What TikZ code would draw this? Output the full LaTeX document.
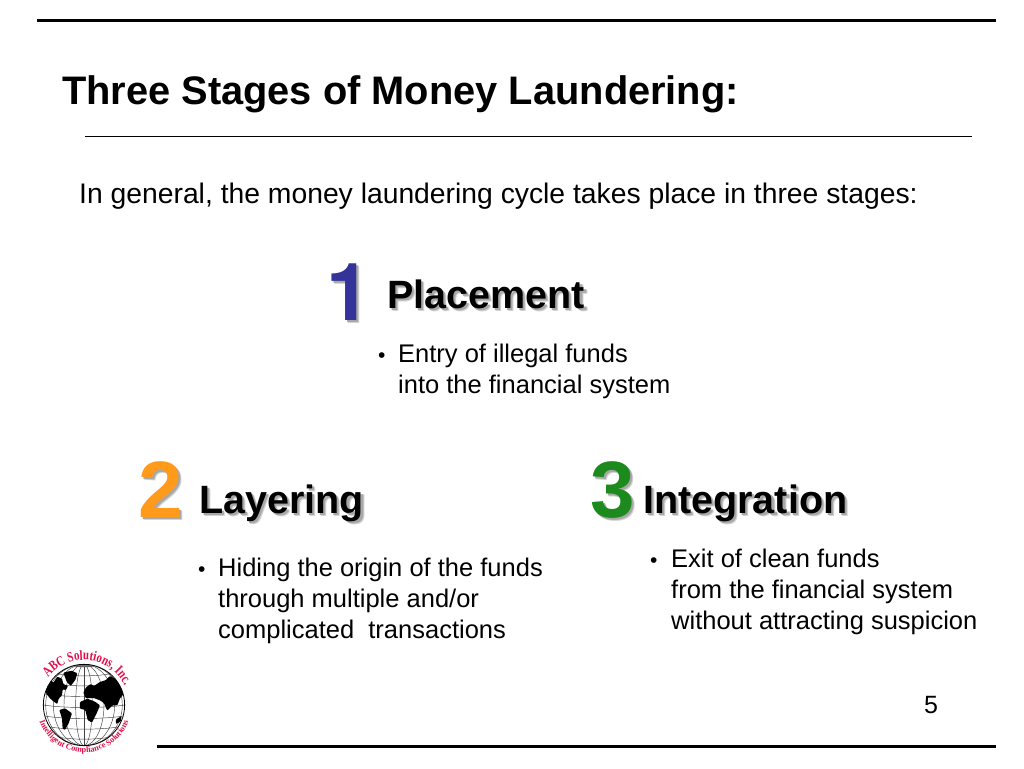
\documentclass[tikz,border=0pt]{standalone}
\usepackage{fontspec}
\setmainfont{Liberation Sans}
\newfontfamily\logofont[FakeStretch=0.78]{Liberation Serif}
\newfontfamily\logosmall{Liberation Serif}
\newfontfamily\numfont{TeX Gyre Heros}
\usetikzlibrary{decorations.text}
\definecolor{numblue}{HTML}{333399}
\definecolor{numorange}{HTML}{FF9A1A}
\definecolor{numgreen}{HTML}{1C8A1C}
\definecolor{shadowgray}{HTML}{A8A8A8}
\definecolor{shadowlight}{HTML}{D4D4D4}
\definecolor{logored}{HTML}{E0104A}
\newcommand{\shadowed}[2]{\leavevmode
  \rlap{\kern3.4pt\raisebox{-3.4pt}{\color{shadowlight}#2}}%
  \rlap{\kern2.4pt\raisebox{-2.4pt}{\color{shadowgray}#2}}%
  {\color{#1}#2}}
\tikzset{
  rule/.style={line width=3pt,black},
  thinrule/.style={line width=1pt,black},
  titletext/.style={anchor=base west,inner sep=0pt,font=\bfseries\fontsize{39.8}{44}\selectfont},
  plaintext/.style={anchor=base west,inner sep=0pt,font=\fontsize{28.3}{31}\selectfont},
  bodytext/.style={anchor=north west,inner sep=0pt,align=left,font=\fontsize{25.5}{31}\selectfont},
  bulletmark/.style={anchor=base west,inner sep=0pt,font=\fontsize{21}{31}\selectfont},
  headtext/.style={anchor=base west,inner sep=0pt,font=\bfseries\fontsize{39.5}{44}\selectfont},
  bignum/.style={anchor=base west,inner sep=0pt,font=\bfseries\fontsize{80}{90}\selectfont},
  land/.style={fill=black,draw=none,rounded corners=.8pt},
  gridline/.style={line width=.45pt,black!75}
}
\begin{document}
\begin{tikzpicture}[x=1pt,y=-1pt]
\useasboundingbox (0,0) rectangle (1024,768);
\fill[white] (0,0) rectangle (1024,768);
\coordinate (topl) at (37,21); \coordinate (topr) at (996,21);
\coordinate (midl) at (85,136); \coordinate (midr) at (972,136);
\coordinate (botl) at (157,746); \coordinate (botr) at (996,746);
\draw[rule] (topl) -- (topr);
\draw[thinrule] (midl) -- (midr);
\draw[rule] (botl) -- (botr);
\node[titletext] (title) at (62,104) {Three Stages of Money Laundering:};
\node[plaintext] (intro) at (79,203) {In general, the money laundering cycle takes place in three stages:};

% stage 1
\node[bignum] (n1) at (326,320) {\numfont\shadowed{numblue}{1}};
\node[headtext] (h1) at (387,308) {\shadowed{black}{Placement}};
\node[bulletmark] (b1) at (378,362) {•};
\node[bodytext] (t1) at (398,344) {Entry of illegal funds\\into the financial system};

% stage 2
\node[bignum] (n2) at (138,517) {\shadowed{numorange}{2}};
\node[headtext] (h2) at (199,513) {\shadowed{black}{Layering}};
\node[bulletmark] (b2) at (198,576) {•};
\node[bodytext] (t2) at (218,558) {Hiding the origin of the funds\\through multiple and/or\\complicated\ \ transactions};

% stage 3
\node[bignum] (n3) at (590,517) {\shadowed{numgreen}{3}};
\node[headtext] (h3) at (643,513) {\shadowed{black}{Integration}};
\node[bulletmark] (b3) at (650,567) {•};
\node[bodytext] (t3) at (671,549) {Exit of clean funds\\from the financial system\\without attracting suspicion};

\node[anchor=base west,inner sep=0pt,font=\fontsize{25}{30}\selectfont] (page) at (924,713) {5};

% logo: globe
\begin{scope}[shift={(0,630)},x=.3333pt,y=-.3333pt]
  \begin{scope}
    \clip (252,225) circle[radius=122];
    \foreach \r in {25,60,92,115} {
      \draw[gridline] (252,225) ellipse[x radius=\r,y radius=122];
    }
    \draw[gridline] (252,103) -- (252,347);
    \foreach \yy/\r in {-95/85,-65/108,-33/119,0/122,33/119,65/108,95/85} {
      \draw[gridline] (252-\r,225+\yy) .. controls (252-\r/2,225+\yy+10) and (252+\r/2,225+\yy+10) .. (252+\r,225+\yy);
    }
    \draw[gridline,fill=black!55] (252,103) ellipse[x radius=35,y radius=8];
    % North America
    \draw[land] (135,172) -- (150,150) -- (160,158) -- (172,140) -- (186,146) -- (190,162) -- (204,168) -- (198,180) -- (188,178) -- (186,196) -- (176,206) -- (172,222) -- (160,214) -- (150,205) -- (138,190) -- cycle;
    % Greenland
    \draw[land] (190,128) -- (215,122) -- (232,130) -- (226,150) -- (212,168) -- (200,155) -- cycle;
    % South America
    \draw[land] (178,240) -- (195,235) -- (216,250) -- (206,280) -- (195,300) -- (188,296) -- (186,265) -- cycle;
    % Africa
    \draw[land] (240,216) -- (262,206) -- (285,215) -- (300,226) -- (290,250) -- (276,278) -- (263,270) -- (256,240) -- (240,236) -- cycle;
    % Eurasia
    \draw[land] (250,188) -- (258,172) -- (272,162) -- (282,168) -- (300,156) -- (318,150) -- (330,138) -- (352,150) -- (368,162) -- (373,190) -- (360,205) -- (352,226) -- (338,226) -- (322,242) -- (312,220) -- (302,212) -- (282,204) -- (258,205) -- cycle;
    % Australia
    \draw[land] (348,268) -- (365,258) -- (362,275) -- (348,282) -- cycle;
  \end{scope}
  \draw[line width=.8pt,black] (252,225) circle[radius=122];
\end{scope}
\begin{scope}[shift={(84,705)},x=1pt,y=1pt]
  \path[decorate,decoration={text along path,text align=center,
    text={|\logofont\bfseries\fontsize{14}{16}\selectfont\color{logored}|ABC Solutions, Inc.}}]
    (170:45) arc[start angle=170,end angle=-2,radius=45];
  \path[decorate,decoration={text along path,text align=center,
    text={|\logosmall\bfseries\fontsize{8.3}{10}\selectfont\color{logored}|Intelligent Compliance Solutions}}]
    (170:47.5) arc[start angle=170,end angle=370,radius=47.5];
\end{scope}
\end{tikzpicture}
\end{document}
